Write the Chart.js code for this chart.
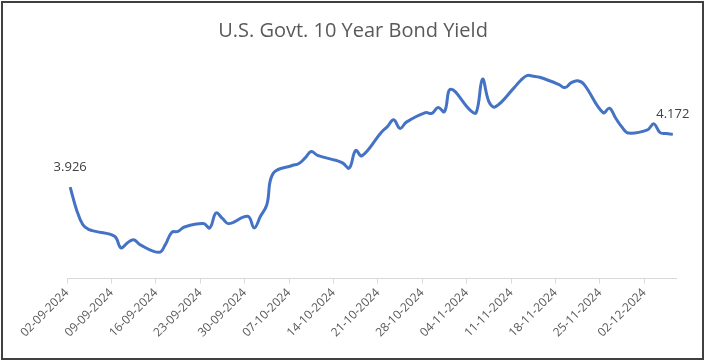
<!DOCTYPE html>
<html>
<head>
<meta charset="utf-8">
<script src="https://cdn.jsdelivr.net/npm/chart.js@4.4.1/dist/chart.umd.min.js"></script>
<style>
body{margin:0;background:#fff;}
#wrap{width:706px;height:361px;}
</style>
</head>
<body>
<div id="wrap"><canvas id="yieldChart" width="706" height="361"></canvas></div>
<script>
const chartTitle = "U.S. Govt. 10 Year Bond Yield";

const tradeDates = [
  "02-09-2024","03-09-2024","04-09-2024","05-09-2024","06-09-2024",
  "09-09-2024","10-09-2024","11-09-2024","12-09-2024","13-09-2024",
  "16-09-2024","17-09-2024","18-09-2024","19-09-2024","20-09-2024",
  "23-09-2024","24-09-2024","25-09-2024","26-09-2024","27-09-2024",
  "30-09-2024","01-10-2024","02-10-2024","03-10-2024","04-10-2024",
  "07-10-2024","08-10-2024","09-10-2024","10-10-2024","11-10-2024",
  "14-10-2024","15-10-2024","16-10-2024","17-10-2024","18-10-2024",
  "21-10-2024","22-10-2024","23-10-2024","24-10-2024","25-10-2024",
  "28-10-2024","29-10-2024","30-10-2024","31-10-2024","01-11-2024",
  "04-11-2024","05-11-2024","06-11-2024","07-11-2024","08-11-2024",
  "11-11-2024","12-11-2024","13-11-2024","14-11-2024","15-11-2024",
  "18-11-2024","19-11-2024","20-11-2024","21-11-2024","22-11-2024",
  "25-11-2024","26-11-2024","27-11-2024","28-11-2024","29-11-2024",
  "02-12-2024","03-12-2024","04-12-2024","05-12-2024","06-12-2024"
];

const yields = [
  3.926, 3.821, 3.751, 3.728, 3.720,
  3.697, 3.643, 3.666, 3.681, 3.658,
  3.622, 3.658, 3.715, 3.720, 3.740,
  3.756, 3.736, 3.806, 3.780, 3.756,
  3.790, 3.736, 3.790, 3.844, 3.990,
  4.027, 4.035, 4.061, 4.092, 4.074,
  4.050, 4.038, 4.015, 4.097, 4.072,
  4.180, 4.208, 4.240, 4.200, 4.229,
  4.273, 4.270, 4.297, 4.278, 4.382,
  4.286, 4.273, 4.429, 4.325, 4.300,
  4.390, 4.423, 4.446, 4.443, 4.438,
  4.405, 4.390, 4.413, 4.422, 4.405,
  4.273, 4.294, 4.247, 4.205, 4.178,
  4.193, 4.221, 4.180, 4.176, 4.172
];

const tickLabels = [
  "02-09-2024","09-09-2024","16-09-2024","23-09-2024","30-09-2024",
  "07-10-2024","14-10-2024","21-10-2024","28-10-2024","04-11-2024",
  "11-11-2024","18-11-2024","25-11-2024","02-12-2024"
];

// day number counted from the first date
function dayOf(s){
  const p = s.split("-");
  const t = Date.UTC(+p[2], +p[1]-1, +p[0]);
  const q = tradeDates[0].split("-");
  const t0 = Date.UTC(+q[2], +q[1]-1, +q[0]);
  return Math.round((t - t0) / 86400000);
}

const points = tradeDates.map((d, i) => ({x: dayOf(d), y: yields[i]}));
const lastDay = dayOf(tradeDates[tradeDates.length-1]);

const extras = {
  id: "extras",
  beforeDraw(chart){
    const ctx = chart.ctx;
    ctx.save();
    ctx.fillStyle = "#ffffff";
    ctx.fillRect(0, 0, chart.width, chart.height);
    ctx.restore();
  },
  afterDraw(chart){
    const ctx = chart.ctx;
    ctx.save();
    ctx.strokeStyle = "#404040";
    ctx.lineWidth = 2;
    ctx.strokeRect(2, 2, 701, 357);

    ctx.fillStyle = "#595959";
    ctx.font = "20px 'Open Sans'";
    ctx.textAlign = "center";
    ctx.textBaseline = "middle";
    ctx.fillText(chartTitle, chart.width/2, 31);

    const pts = chart.getDatasetMeta(0).data;
    ctx.fillStyle = "#404040";
    ctx.font = "13px 'Open Sans'";
    [0, pts.length-1].forEach(i => {
      ctx.fillText(yields[i].toFixed(3), pts[i].x, pts[i].y - 20);
    });
    ctx.restore();
  }
};

const yieldChart = new Chart(
document.getElementById("yieldChart"),
{
  type: "line",
  data: {
    datasets: [{
      label: "10Y Yield",
      data: points,
      borderColor: "#4472C4",
      borderWidth: 3,
      pointRadius: 0,
      tension: 0.4,
      fill: false,
      clip: false
    }]
  },
  options: {
    responsive: false,
    animation: false,
    layout: {padding: {top: 64, left: 67, right: 30, bottom: 19}},
    plugins: {
      legend: {display: false},
      tooltip: {enabled: false}
    },
    scales: {
      x: {
        type: "linear",
        min: -0.5,
        max: lastDay + 0.5,
        afterBuildTicks: s => {
          s.ticks = tickLabels.map(l => ({value: dayOf(l) - 0.5}));
        },
        ticks: {
          autoSkip: false,
          maxRotation: 45,
          minRotation: 45,
          padding: 2,
          color: "#595959",
          font: {family: "'Open Sans'", size: 12},
          callback: (v, i) => tickLabels[i]
        },
        grid: {drawOnChartArea: false, drawTicks: true, tickLength: 5, color: "#d9d9d9"},
        border: {display: true, color: "#d9d9d9", width: 1}
      },
      y: {
        display: false,
        min: 3.5,
        max: 4.5
      }
    }
  },
  plugins: [extras]
});
</script>
</body>
</html>
